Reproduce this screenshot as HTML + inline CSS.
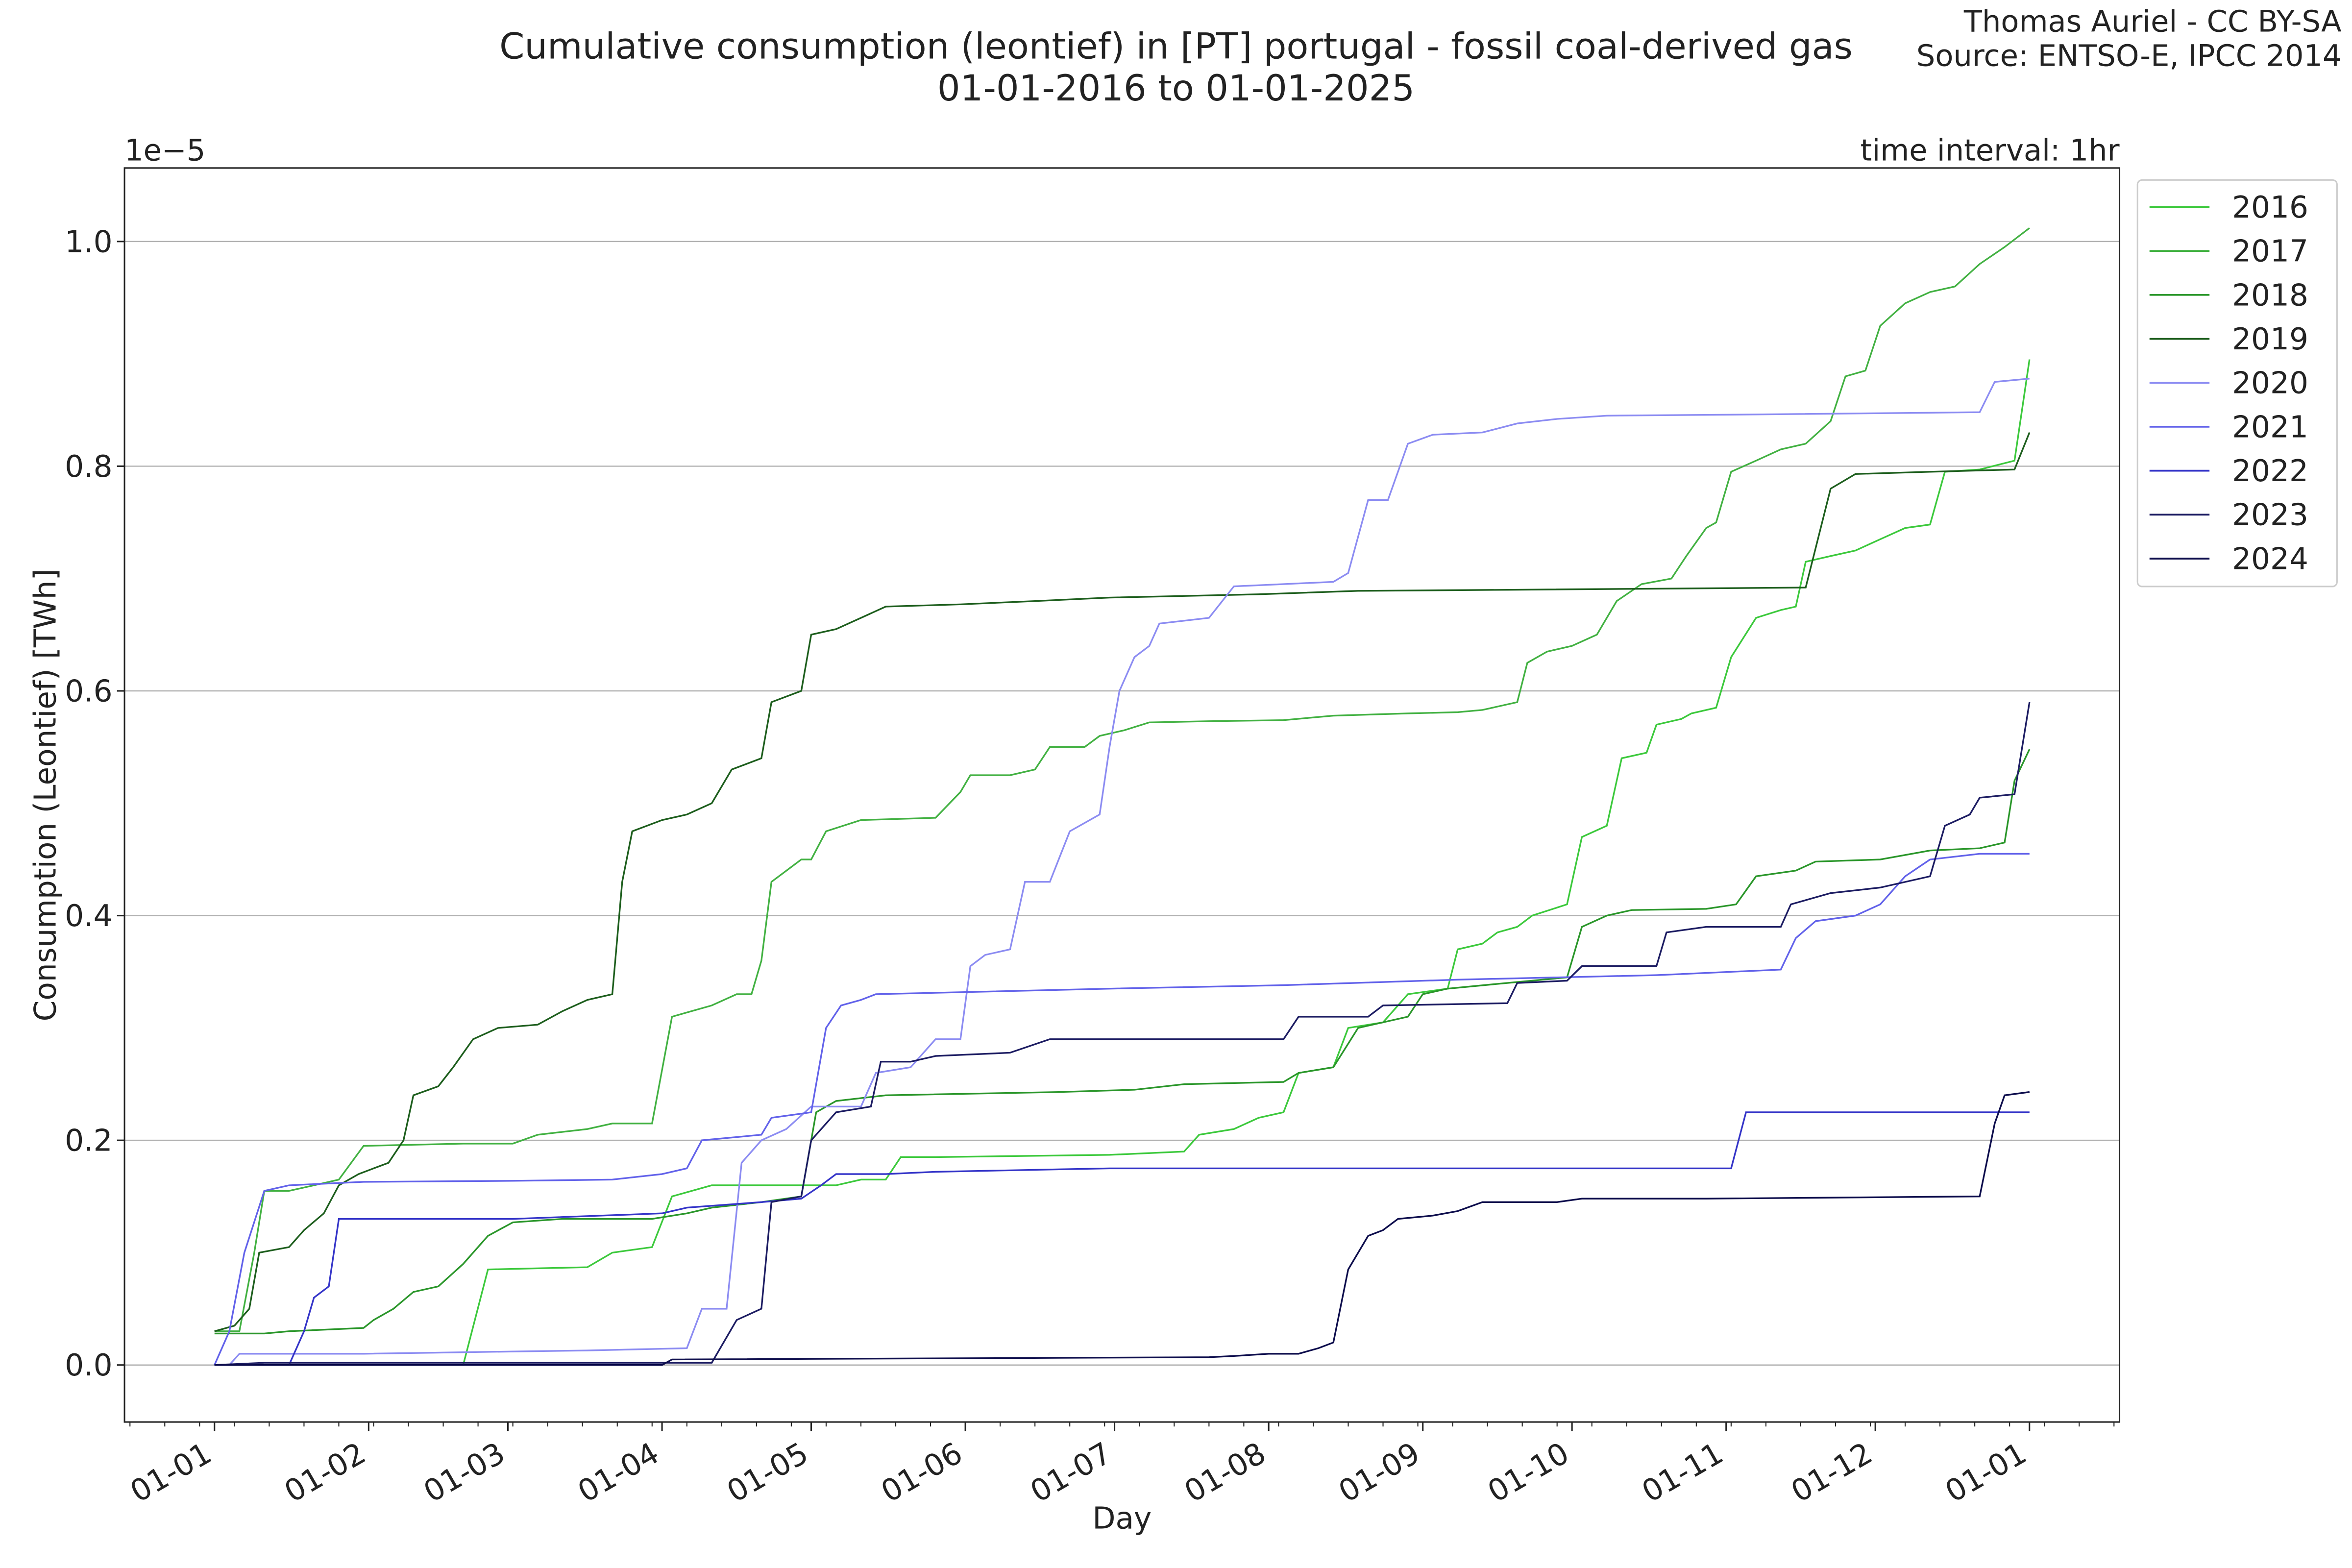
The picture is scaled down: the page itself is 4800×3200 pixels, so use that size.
<!DOCTYPE html>
<html><head><meta charset="utf-8"><style>
html,body{margin:0;padding:0;background:#fff}
svg{display:block}
text{font-family:"DejaVu Sans","Liberation Sans",sans-serif;fill:#222}
</style></head><body>
<svg id="s" width="4800" height="3200" viewBox="0 0 1568 1045.33" preserveAspectRatio="none" xmlns="http://www.w3.org/2000/svg">
<rect width="1568" height="1046" fill="#fff"/>
<text x="784" y="39" font-size="24" text-anchor="middle">Cumulative consumption (leontief) in [PT] portugal - fossil coal-derived gas</text>
<text x="784" y="67" font-size="24" text-anchor="middle">01-01-2016 to 01-01-2025</text>
<text x="1561" y="21" font-size="19.8" text-anchor="end">Thomas Auriel - CC BY-SA</text>
<text x="1561" y="44" font-size="19.8" text-anchor="end">Source: ENTSO-E, IPCC 2014</text>
<text x="1413" y="107" font-size="19.8" text-anchor="end">time interval: 1hr</text>
<text x="83" y="107" font-size="19.8">1e−5</text>
<g id="grid"></g>
<g id="series" fill="none" stroke-width="1.1"></g>
<rect x="83" y="112" width="1330" height="836" fill="none" stroke="#222" stroke-width="1"/>
<g id="ticks"></g>
<text x="748" y="1019" font-size="20" text-anchor="middle">Day</text>
<text transform="translate(37,530) rotate(-90)" font-size="20" text-anchor="middle">Consumption (Leontief) [TWh]</text>
<g id="legend"></g>
</svg>
<script>
const NS="http://www.w3.org/2000/svg";
function el(p,t,a,txt){const e=document.createElementNS(NS,t);for(const k in a)e.setAttribute(k,a[k]);if(txt!==undefined)e.textContent=txt;p.appendChild(e);return e;}
const X=d=>143+d*3.315, Y=v=>910-v*749;
const grid=document.getElementById('grid'),ticks=document.getElementById('ticks');
for(let i=0;i<=5;i++){const v=i*0.2,y=Y(v);
 el(grid,'line',{x1:83,x2:1413,y1:y,y2:y,stroke:'#b0b0b0','stroke-width':0.8});
 el(ticks,'line',{x1:78,x2:83,y1:y,y2:y,stroke:'#222'});
 el(ticks,'text',{x:75,y:y+7,'font-size':20,'text-anchor':'end'},v.toFixed(1));}
const months=[0,31,59,90,120,151,181,212,243,273,304,334,365];
const lbl=['01-01','01-02','01-03','01-04','01-05','01-06','01-07','01-08','01-09','01-10','01-11','01-12','01-01'];
for(let d=-17;d<=382;d+=7){const x=X(d);if(x<84||x>1412)continue;el(ticks,'line',{x1:x,x2:x,y1:948,y2:951,stroke:'#222','stroke-width':0.7});}
months.forEach((d,i)=>{const x=X(d);el(ticks,'line',{x1:x,x2:x,y1:948,y2:954,stroke:'#222'});
 el(ticks,'text',{transform:`translate(${x-8},${960}) rotate(-30)`,'font-size':20,'text-anchor':'end',y:15},lbl[i]);});
const S=[
['2016','#3cc93c',[[0,0],[50,0],[55,0.085],[75,0.087],[80,0.1],[88,0.105],[92,0.15],[100,0.16],[125,0.16],[130,0.165],[135,0.165],[138,0.185],[145,0.185],[180,0.187],[195,0.19],[198,0.205],[205,0.21],[210,0.22],[215,0.225],[218,0.26],[225,0.265],[228,0.3],[235,0.305],[240,0.33],[248,0.335],[250,0.37],[255,0.375],[258,0.385],[262,0.39],[265,0.4],[272,0.41],[275,0.47],[280,0.48],[283,0.54],[288,0.545],[290,0.57],[295,0.575],[297,0.58],[302,0.585],[305,0.63],[310,0.665],[315,0.672],[318,0.675],[320,0.715],[325,0.72],[330,0.725],[335,0.735],[340,0.745],[345,0.748],[348,0.795],[355,0.797],[362,0.805],[365,0.895]]],
['2017','#42b142',[[0,0.03],[5,0.03],[8,0.1],[10,0.155],[15,0.155],[20,0.16],[25,0.165],[30,0.195],[50,0.197],[60,0.197],[65,0.205],[75,0.21],[80,0.215],[88,0.215],[92,0.31],[100,0.32],[105,0.33],[108,0.33],[110,0.36],[112,0.43],[118,0.45],[120,0.45],[123,0.475],[130,0.485],[145,0.487],[150,0.51],[152,0.525],[160,0.525],[165,0.53],[168,0.55],[175,0.55],[178,0.56],[183,0.565],[188,0.572],[200,0.573],[215,0.574],[220,0.576],[225,0.578],[240,0.58],[250,0.581],[255,0.583],[262,0.59],[264,0.625],[268,0.635],[273,0.64],[278,0.65],[282,0.68],[287,0.695],[293,0.7],[296,0.72],[300,0.745],[302,0.75],[305,0.795],[310,0.805],[315,0.815],[320,0.82],[325,0.84],[328,0.88],[332,0.885],[335,0.925],[340,0.945],[345,0.955],[350,0.96],[355,0.98],[360,0.995],[365,1.012]]],
['2018','#2a962a',[[0,0.028],[10,0.028],[15,0.03],[30,0.033],[32,0.04],[36,0.05],[40,0.065],[45,0.07],[50,0.09],[55,0.115],[60,0.127],[70,0.13],[88,0.13],[95,0.135],[100,0.14],[110,0.145],[118,0.15],[121,0.225],[125,0.235],[135,0.24],[170,0.243],[185,0.245],[195,0.25],[215,0.252],[218,0.26],[225,0.265],[230,0.3],[240,0.31],[243,0.33],[248,0.335],[260,0.34],[272,0.345],[275,0.39],[280,0.4],[285,0.405],[300,0.406],[306,0.41],[310,0.435],[318,0.44],[322,0.448],[335,0.45],[345,0.458],[355,0.46],[360,0.465],[362,0.52],[365,0.548]]],
['2019','#1d5e1d',[[0,0.03],[4,0.035],[7,0.05],[9,0.1],[15,0.105],[18,0.12],[22,0.135],[25,0.16],[29,0.17],[32,0.175],[35,0.18],[38,0.2],[40,0.24],[45,0.248],[48,0.265],[52,0.29],[57,0.3],[65,0.303],[70,0.315],[75,0.325],[80,0.33],[82,0.43],[84,0.475],[90,0.485],[95,0.49],[100,0.5],[104,0.53],[110,0.54],[112,0.59],[118,0.6],[120,0.65],[125,0.655],[130,0.665],[135,0.675],[150,0.677],[165,0.68],[180,0.683],[210,0.686],[230,0.689],[260,0.69],[320,0.692],[325,0.78],[330,0.793],[345,0.795],[362,0.797],[365,0.83]]],
['2020','#8c8cf2',[[0,0],[3,0],[5,0.01],[30,0.01],[60,0.012],[75,0.013],[95,0.015],[98,0.05],[103,0.05],[106,0.18],[110,0.2],[115,0.21],[120,0.23],[130,0.23],[133,0.26],[140,0.265],[145,0.29],[150,0.29],[152,0.355],[155,0.365],[160,0.37],[163,0.43],[168,0.43],[172,0.475],[178,0.49],[180,0.55],[182,0.6],[185,0.63],[188,0.64],[190,0.66],[200,0.665],[205,0.693],[215,0.695],[225,0.697],[228,0.705],[232,0.77],[236,0.77],[240,0.82],[245,0.828],[255,0.83],[262,0.838],[270,0.842],[280,0.845],[310,0.846],[355,0.848],[358,0.875],[365,0.878]]],
['2021','#6262ea',[[0,0],[3,0.03],[6,0.1],[10,0.155],[15,0.16],[30,0.163],[60,0.164],[80,0.165],[90,0.17],[95,0.175],[98,0.2],[110,0.205],[112,0.22],[120,0.225],[123,0.3],[126,0.32],[130,0.325],[133,0.33],[180,0.335],[215,0.338],[250,0.343],[290,0.347],[315,0.352],[318,0.38],[322,0.395],[330,0.4],[335,0.41],[340,0.435],[345,0.45],[355,0.455],[365,0.455]]],
['2022','#3434c8',[[0,0],[15,0],[18,0.03],[20,0.06],[23,0.07],[25,0.13],[60,0.13],[90,0.135],[95,0.14],[110,0.145],[118,0.148],[122,0.16],[125,0.17],[135,0.17],[145,0.172],[180,0.175],[305,0.175],[308,0.225],[365,0.225]]],
['2023','#1c1c62',[[0,0],[10,0.002],[100,0.002],[105,0.04],[110,0.05],[112,0.145],[118,0.15],[120,0.2],[125,0.225],[132,0.23],[134,0.27],[140,0.27],[145,0.275],[160,0.278],[168,0.29],[215,0.29],[218,0.31],[232,0.31],[235,0.32],[260,0.322],[262,0.34],[272,0.342],[275,0.355],[290,0.355],[292,0.385],[300,0.39],[315,0.39],[317,0.41],[325,0.42],[335,0.425],[345,0.435],[348,0.48],[353,0.49],[355,0.505],[362,0.508],[365,0.59]]],
['2024','#0d0d4c',[[0,0],[90,0],[92,0.005],[200,0.007],[205,0.008],[212,0.01],[218,0.01],[222,0.015],[225,0.02],[228,0.085],[232,0.115],[235,0.12],[238,0.13],[245,0.133],[250,0.137],[255,0.145],[270,0.145],[275,0.148],[300,0.148],[355,0.15],[358,0.215],[360,0.24],[365,0.243]]]
];
const sg=document.getElementById('series'),lg=document.getElementById('legend');
el(lg,'rect',{x:1425,y:120,width:133,height:271,rx:3,fill:'#fff',stroke:'#ccc'});
S.forEach((s,i)=>{el(sg,'polyline',{points:s[2].map(p=>X(p[0]).toFixed(1)+','+Y(p[1]).toFixed(1)).join(' '),stroke:s[1]});
 const y=138+i*29.3;el(lg,'line',{x1:1433,x2:1473,y1:y,y2:y,stroke:s[1],'stroke-width':1.2});
 el(lg,'text',{x:1488,y:y+7,'font-size':20},s[0]);});
</script>
</body></html>
